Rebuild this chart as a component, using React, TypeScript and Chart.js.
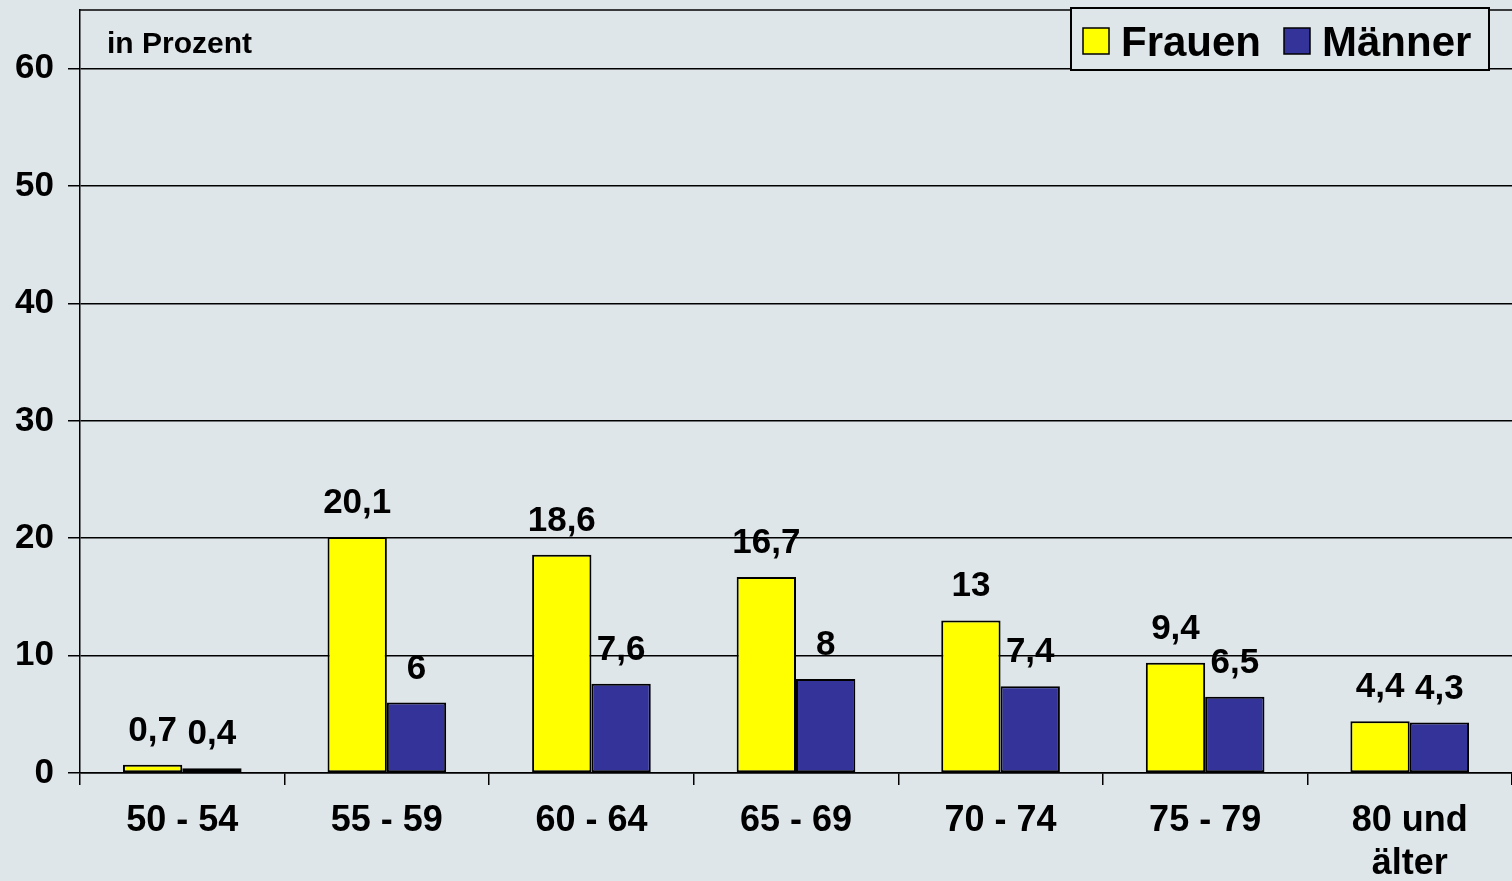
import { useEffect, useRef } from "react";
import { Chart, registerables } from "chart.js";

Chart.register(...registerables);

const FONT = '"Liberation Sans", Arial, Helvetica, sans-serif';

const categories: (string | string[])[] = [
  "50 - 54",
  "55 - 59",
  "60 - 64",
  "65 - 69",
  "70 - 74",
  "75 - 79",
  ["80 und", "älter"],
];
const frauen = [0.7, 20.1, 18.6, 16.7, 13, 9.4, 4.4];
const maenner = [0.4, 6, 7.6, 8, 7.4, 6.5, 4.3];
const seriesNames = ["Frauen", "Männer"];
const seriesColors = ["#ffff00", "#333399"];
const yMax = 65;
const yStep = 10;
const unitLabel = "in Prozent";
const BG = "#dfe6ea";

const fmt = (v: number) => String(v).replace(".", ",");

const overlayPlugin = {
  id: "overlay",
  afterDatasetsDraw(chart: any) {
    const ctx = chart.ctx;
    ctx.save();
    ctx.fillStyle = "#000";
    ctx.font = `bold 35px ${FONT}`;
    ctx.textAlign = "center";
    ctx.textBaseline = "alphabetic";
    chart.data.datasets.forEach((ds: any, di: number) => {
      const meta = chart.getDatasetMeta(di);
      meta.data.forEach((el: any, i: number) => {
        ctx.fillText(fmt(ds.data[i]), el.x, el.y - 24);
      });
    });
    ctx.restore();
  },
  afterDraw(chart: any) {
    const ctx = chart.ctx;
    const area = chart.chartArea;
    ctx.save();
    ctx.strokeStyle = "#000";
    ctx.lineWidth = 1.5;
    ctx.beginPath();
    ctx.moveTo(area.left, area.top);
    ctx.lineTo(area.right, area.top);
    ctx.stroke();

    ctx.fillStyle = "#000";
    ctx.font = `bold 30px ${FONT}`;
    ctx.textAlign = "left";
    ctx.textBaseline = "alphabetic";
    ctx.fillText(unitLabel, 107, 53);

    const lx = 1071, ly = 8, lw = 418, lh = 62;
    ctx.fillStyle = BG;
    ctx.fillRect(lx, ly, lw, lh);
    ctx.lineWidth = 2;
    ctx.strokeStyle = "#000";
    ctx.strokeRect(lx, ly, lw, lh);
    ctx.font = `bold 42px ${FONT}`;
    const items = [
      { sx: 1083, tx: 1121 },
      { sx: 1284, tx: 1322 },
    ];
    items.forEach((it, i) => {
      ctx.fillStyle = seriesColors[i];
      ctx.fillRect(it.sx, 28, 26, 26);
      ctx.lineWidth = 1.5;
      ctx.strokeRect(it.sx, 28, 26, 26);
      ctx.fillStyle = "#000";
      ctx.fillText(seriesNames[i], it.tx, 56);
    });
    ctx.restore();
  },
};

export default function App() {
  const ref = useRef<HTMLCanvasElement | null>(null);
  useEffect(() => {
    if (!ref.current) return;
    const chart = new Chart(ref.current, {
      type: "bar",
      data: {
        labels: categories as any,
        datasets: [
          {
            label: seriesNames[0],
            data: frauen,
            backgroundColor: seriesColors[0],
            borderColor: "#000",
            borderWidth: 2,
            borderSkipped: false,
            categoryPercentage: 0.58,
            barPercentage: 1,
          },
          {
            label: seriesNames[1],
            data: maenner,
            backgroundColor: seriesColors[1],
            borderColor: "#000",
            borderWidth: 2,
            borderSkipped: false,
            categoryPercentage: 0.58,
            barPercentage: 1,
          },
        ],
      },
      options: {
        responsive: false,
        animation: false,
        layout: { padding: { top: 10, right: 0, left: 0, bottom: 0 } },
        plugins: {
          legend: { display: false },
          tooltip: { enabled: false },
        },
        scales: {
          x: {
            grid: {
              offset: true,
              drawOnChartArea: false,
              drawTicks: true,
              tickLength: 12,
              color: "#000",
              lineWidth: 1.5,
            },
            border: { display: true, color: "#000", width: 1.5 },
            ticks: {
              color: "#000",
              font: { family: FONT, size: 36, weight: "bold", lineHeight: 1.2 },
              padding: 14,
              maxRotation: 0,
              autoSkip: false,
            },
            afterFit: (scale: any) => {
              scale.height = 108;
              scale.paddingLeft = 0;
              scale.paddingRight = 0;
            },
          },
          y: {
            min: 0,
            max: yMax,
            grid: {
              color: "#000",
              lineWidth: 1.5,
              drawTicks: true,
              tickLength: 12,
            },
            border: { display: true, color: "#000", width: 1.5 },
            ticks: {
              stepSize: yStep,
              includeBounds: false,
              color: "#000",
              font: { family: FONT, size: 35, weight: "bold" },
              padding: 14,
            },
            afterFit: (scale: any) => {
              scale.width = 80;
              scale.paddingTop = 0;
              scale.paddingBottom = 0;
            },
          },
        },
      },
      plugins: [overlayPlugin],
    });
    return () => chart.destroy();
  }, []);
  return (
    <div
      style={{
        position: "absolute",
        left: 0,
        top: 0,
        width: 1512,
        height: 881,
        background: BG,
      }}
    >
      <canvas ref={ref} width={1512} height={881} style={{ width: 1512, height: 881, display: "block" }} />
    </div>
  );
}
